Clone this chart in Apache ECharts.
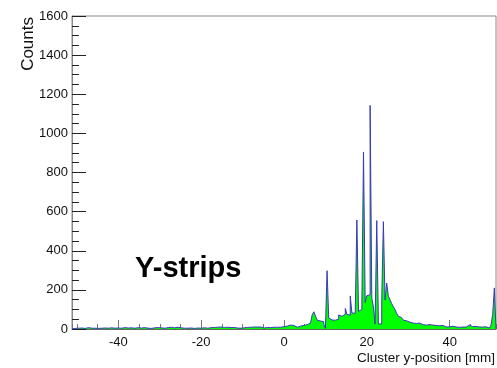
<!DOCTYPE html>
<html><head><meta charset="utf-8">
<script src="https://cdn.jsdelivr.net/npm/echarts@6/dist/echarts.min.js"></script>
<style>html,body{margin:0;padding:0;background:#fff}#c{width:497px;height:368px}</style>
</head><body><div id="c"></div>
<script>
// Histogram: 256 bins of 0.4 mm from -51.2 to 51.2 mm
const xMin = -51.2, xMax = 51.2, binWidth = 0.4;
const yMin = 0, yMax = 1600, yStep = 200;
const xTitle = 'Cluster y-position [mm]';
const yTitle = 'Counts';
const label = 'Y-strips';

// bins 0-63
const countsA = [
  2,3,2,4,3,5,4,3,6,7,5,4,3,4,2,3,
  5,4,6,5,3,4,7,6,5,4,3,5,6,4,5,7,
  6,5,4,6,3,4,5,7,6,5,8,7,6,4,5,3,
  4,6,5,7,8,6,5,4,6,7,8,9,7,6,8,9
];
// bins 64-127
const countsB = [
  7,6,5,4,3,4,3,5,4,3,4,5,6,4,5,6,
  5,4,6,7,6,8,7,9,8,10,9,8,10,9,8,7,
  9,8,7,5,4,4,5,6,4,8,10,9,11,10,9,10,
  11,10,9,5,4,8,9,7,8,9,8,9,10,9,10,12
];
// bins 128-191
const countsC = [
  14,15,16,20,20,18,10,9,14,15,15,18,20,22,25,30,
  40,72,88,66,45,41,38,37,25,3,298,56,46,41,45,46,
  50,72,65,70,75,105,75,70,169,82,80,85,557,90,100,125,
  905,135,170,175,1143,158,112,25,554,26,25,145,549,148,235,168
];
// bins 192-255
const countsD = [
  150,130,115,100,80,65,58,50,45,42,40,35,33,30,32,28,
  25,30,27,22,26,20,18,22,16,20,15,18,14,17,16,18,
  12,10,12,11,9,14,18,10,11,9,12,10,11,10,18,20,
  15,12,11,13,12,10,12,10,9,11,8,5,6,20,75,210
];

const counts = [].concat(countsA, countsB, countsC, countsD);
// histogram outline: each bin is a flat segment from its low edge to its high edge
const histData = [[xMin, 0]];
counts.forEach((v, k) => {
  histData.push([xMin + k * binWidth, v]);
  histData.push([xMin + (k + 1) * binWidth, v]);
});
histData.push([xMax, 0]);

const FONT = '"Liberation Sans", Arial, sans-serif';
const chart = echarts.init(document.getElementById('c'), null, {renderer: 'canvas'});
chart.setOption({
  animation: false,
  backgroundColor: '#fff',
  grid: {left: 72, top: 16, right: 1, bottom: 39, show: true, borderColor: '#888', borderWidth: 1, backgroundColor: 'transparent'},
  xAxis: [{
    type: 'value', min: xMin, max: xMax, splitNumber: 5, position: 'bottom',
    axisLine: {show: true, onZero: false, lineStyle: {color: '#666', width: 1}},
    axisTick: {show: true, inside: true, length: 9, lineStyle: {color: '#777'}},
    minorTick: {show: false},
    splitLine: {show: false},
    axisLabel: {show: true, showMinLabel: false, showMaxLabel: false, margin: 7, color: '#111', fontSize: 13, fontFamily: FONT,
      formatter: v => (Math.abs(v % 20) < 1e-6 ? String(Math.round(v)) : '')}
  }, {
    type: 'value', min: xMin, max: xMax, splitNumber: 20, position: 'bottom',
    axisLine: {show: false, onZero: false},
    axisTick: {show: true, inside: true, length: 5, lineStyle: {color: '#777'}},
    axisLabel: {show: false},
    splitLine: {show: false}
  }],
  yAxis: {
    type: 'value', min: yMin, max: yMax, interval: yStep, position: 'left',
    axisLine: {show: true, onZero: false, lineStyle: {color: '#888', width: 1}},
    axisTick: {show: true, inside: true, length: 14, lineStyle: {color: '#222'}},
    minorTick: {show: true, splitNumber: 4, length: 7, lineStyle: {color: '#222'}},
    splitLine: {show: false},
    axisLabel: {margin: 4, color: '#111', fontSize: 13, fontFamily: FONT, formatter: v => String(v)}
  },
  series: [{
    type: 'line', xAxisIndex: 0, data: histData, symbol: 'none', sampling: null,
    lineStyle: {color: '#3a3ab8', width: 1},
    areaStyle: {color: '#00ff00', opacity: 1},
    z: 3
  }],
  graphic: [
    {type: 'text', x: 28, y: 17, rotation: Math.PI / 2,
      style: {text: yTitle, textAlign: 'right', textVerticalAlign: 'middle', font: '17px ' + FONT, fill: '#111'}},
    {type: 'text', x: 495, y: 358,
      style: {text: xTitle, textAlign: 'right', textVerticalAlign: 'middle', font: '13.5px ' + FONT, fill: '#111'}},
    {type: 'text', x: 135, y: 269,
      style: {text: label, textAlign: 'left', textVerticalAlign: 'middle', font: 'bold 29px ' + FONT, fill: '#000'}}
  ]
});
</script></body></html>
